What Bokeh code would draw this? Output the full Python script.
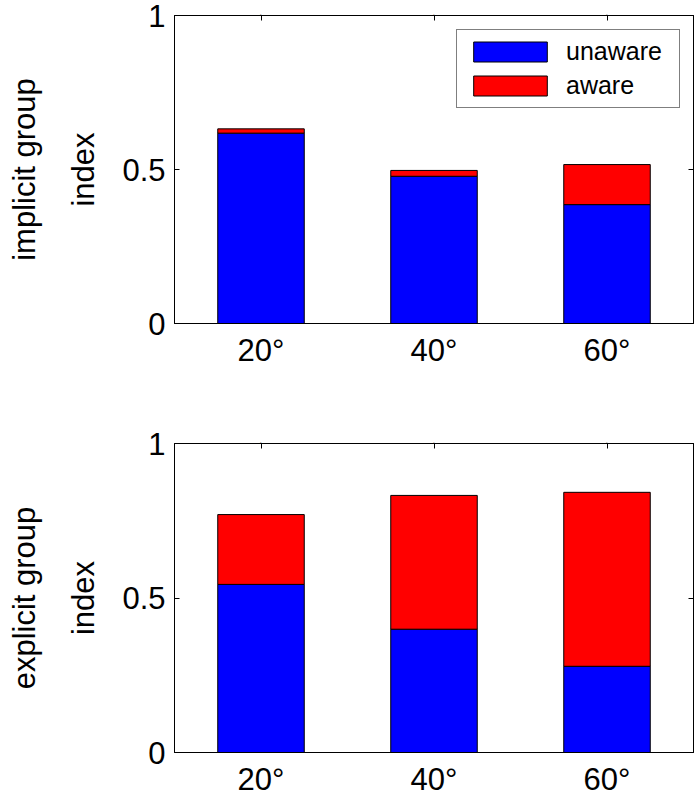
from bokeh.plotting import figure
from bokeh.models import (FactorRange, Range1d, FixedTicker, LinearAxis, CategoricalAxis,
                          Legend, ColumnDataSource)
from bokeh.layouts import column
from bokeh.embed import file_html
from bokeh.resources import INLINE

categories = ["20°", "40°", "60°"]
series = ["unaware", "aware"]
colors = ["#0000FF", "#FF0000"]
implicit_unaware = [0.618, 0.478, 0.386]
implicit_aware = [0.014, 0.019, 0.130]
explicit_unaware = [0.544, 0.399, 0.279]
explicit_aware = [0.226, 0.433, 0.563]
y_ticks = [0, 0.5, 1]
y_tick_labels = ["0", "0.5", "1"]

FONT = "Liberation Sans"
FS = "31px"


def style_axis(ax, show_labels=True, tick_in=5):
    ax.axis_line_color = "black"
    ax.major_tick_line_color = "black"
    ax.major_tick_in = tick_in
    ax.major_tick_out = 0
    ax.minor_tick_in = 0
    ax.minor_tick_out = 0
    ax.major_label_text_font = FONT
    ax.major_label_text_color = "black"
    if show_labels:
        ax.major_label_text_font_size = FS
        ax.major_label_standoff = 9
    else:
        ax.major_label_text_font_size = "1px"
        ax.major_label_standoff = 0


def make_panel(unaware, aware, group_label, with_legend, top_border, bottom_border, frame_h):
    src = ColumnDataSource(dict(cat=categories, unaware=unaware, aware=aware))
    p = figure(x_range=FactorRange(*categories), y_range=Range1d(0, 1),
               frame_width=519, frame_height=frame_h,
               min_border_left=174, min_border_right=7,
               min_border_top=top_border, min_border_bottom=bottom_border,
               output_backend="svg", toolbar_location=None)
    p.xgrid.visible = False
    p.ygrid.visible = False
    p.outline_line_color = "black"
    p.background_fill_color = "white"
    p.border_fill_color = "white"

    renderers = p.vbar_stack(series, x="cat", width=0.5, source=src,
                             fill_color=colors, line_color="black", line_width=1)

    # axes
    xa = p.xaxis[0]
    style_axis(xa, True, tick_in=0)
    ya = p.yaxis[0]
    style_axis(ya, True)
    ya.ticker = FixedTicker(ticks=y_ticks)
    ya.major_label_overrides = {t: l for t, l in zip(y_ticks, y_tick_labels)}
    ya.axis_label = "index"
    ya.axis_label_text_font = FONT
    ya.axis_label_text_font_size = FS
    ya.axis_label_text_font_style = "normal"
    ya.axis_label_text_color = "black"
    ya.axis_label_standoff = 18

    # outer label for the group (an axis with no ticks)
    ga = LinearAxis(ticker=FixedTicker(ticks=[]), axis_line_color=None,
                    major_tick_line_color=None, minor_tick_line_color=None,
                    major_label_text_font_size="1px", major_label_standoff=0,
                    axis_label=group_label, axis_label_text_font=FONT,
                    axis_label_text_font_size=FS, axis_label_text_font_style="normal",
                    axis_label_text_color="black", axis_label_standoff=22)
    p.add_layout(ga, "left")

    ra = LinearAxis(ticker=FixedTicker(ticks=y_ticks))
    style_axis(ra, False)
    ra.major_label_overrides = {t: "" for t in y_ticks}
    p.add_layout(ra, "right")
    ta = CategoricalAxis()
    style_axis(ta, False)
    ta.major_label_overrides = {c: "" for c in categories}
    p.add_layout(ta, "above")

    if with_legend:
        legend = Legend(items=[(s, [r]) for s, r in zip(series, renderers)],
                        location=(282, 215), padding=7,
                        glyph_width=92, glyph_height=25, label_standoff=10,
                        label_text_font=FONT, label_text_font_size="25px",
                        label_text_color="black",
                        label_width=106, spacing=5,
                        border_line_color="black", border_line_width=1,
                        background_fill_color="white", background_fill_alpha=1)
        p.add_layout(legend)
    return p


p1 = make_panel(implicit_unaware, implicit_aware, "implicit group", True, 15, 60, 308)
p2 = make_panel(explicit_unaware, explicit_aware, "explicit group", False, 60, 43, 309)

layout = column(p1, p2, spacing=0)
open("out.html", "w").write(file_html(layout, INLINE))
